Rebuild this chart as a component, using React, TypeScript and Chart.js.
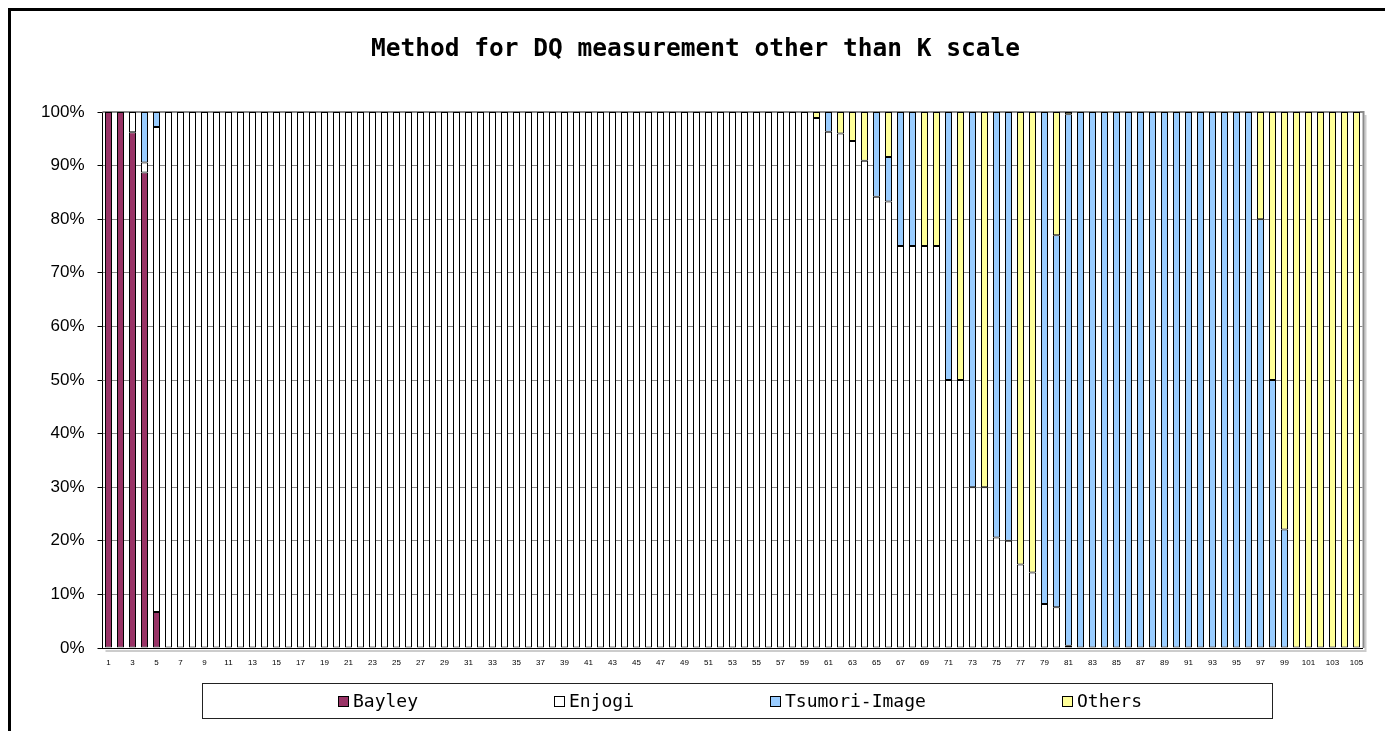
import React, { useEffect, useRef } from "react";
import { Chart, registerables } from "chart.js";

Chart.register(...registerables);

const TITLE = "Method for DQ measurement other than K scale";

const categories = [
  "1","2","3","4","5","6","7","8","9","10",
  "11","12","13","14","15","16","17","18","19","20",
  "21","22","23","24","25","26","27","28","29","30",
  "31","32","33","34","35","36","37","38","39","40",
  "41","42","43","44","45","46","47","48","49","50",
  "51","52","53","54","55","56","57","58","59","60",
  "61","62","63","64","65","66","67","68","69","70",
  "71","72","73","74","75","76","77","78","79","80",
  "81","82","83","84","85","86","87","88","89","90",
  "91","92","93","94","95","96","97","98","99","100",
  "101","102","103","104","105",
];

const seriesNames = ["Bayley", "Enjogi", "Tsumori-Image", "Others"];
const seriesColors = ["#993366", "#FFFFFF", "#99CCFF", "#FFFF99"];

const bayley = [
  100, 100, 96.2, 88.7, 6.7, 0, 0, 0, 0, 0,
  0, 0, 0, 0, 0, 0, 0, 0, 0, 0,
  0, 0, 0, 0, 0, 0, 0, 0, 0, 0,
  0, 0, 0, 0, 0, 0, 0, 0, 0, 0,
  0, 0, 0, 0, 0, 0, 0, 0, 0, 0,
  0, 0, 0, 0, 0, 0, 0, 0, 0, 0,
  0, 0, 0, 0, 0, 0, 0, 0, 0, 0,
  0, 0, 0, 0, 0, 0, 0, 0, 0, 0,
  0, 0, 0, 0, 0, 0, 0, 0, 0, 0,
  0, 0, 0, 0, 0, 0, 0, 0, 0, 0,
  0, 0, 0, 0, 0,
];

const enjogi = [
  0, 0, 3.8, 1.9, 90.5, 100, 100, 100, 100, 100,
  100, 100, 100, 100, 100, 100, 100, 100, 100, 100,
  100, 100, 100, 100, 100, 100, 100, 100, 100, 100,
  100, 100, 100, 100, 100, 100, 100, 100, 100, 100,
  100, 100, 100, 100, 100, 100, 100, 100, 100, 100,
  100, 100, 100, 100, 100, 100, 100, 100, 100, 98.9,
  96.3, 96.0, 94.6, 90.9, 84.2, 83.3, 75, 75, 75, 75,
  50, 50, 30, 30, 20.6, 20, 15.6, 14.1, 8.2, 7.6,
  0.4, 0, 0, 0, 0, 0, 0, 0, 0, 0,
  0, 0, 0, 0, 0, 0, 0, 0, 0, 0,
  0, 0, 0, 0, 0,
];

const tsumori = [
  0, 0, 0, 9.4, 2.8, 0, 0, 0, 0, 0,
  0, 0, 0, 0, 0, 0, 0, 0, 0, 0,
  0, 0, 0, 0, 0, 0, 0, 0, 0, 0,
  0, 0, 0, 0, 0, 0, 0, 0, 0, 0,
  0, 0, 0, 0, 0, 0, 0, 0, 0, 0,
  0, 0, 0, 0, 0, 0, 0, 0, 0, 0,
  3.7, 0, 0, 0, 15.8, 8.3, 25, 25, 0, 0,
  50, 0, 70, 0, 79.4, 80, 0, 0, 91.8, 69.4,
  99.2, 100, 100, 100, 100, 100, 100, 100, 100, 100,
  100, 100, 100, 100, 100, 100, 80, 50, 22.1, 0,
  0, 0, 0, 0, 0,
];

const others = [
  0, 0, 0, 0, 0, 0, 0, 0, 0, 0,
  0, 0, 0, 0, 0, 0, 0, 0, 0, 0,
  0, 0, 0, 0, 0, 0, 0, 0, 0, 0,
  0, 0, 0, 0, 0, 0, 0, 0, 0, 0,
  0, 0, 0, 0, 0, 0, 0, 0, 0, 0,
  0, 0, 0, 0, 0, 0, 0, 0, 0, 1.1,
  0, 4.0, 5.4, 9.1, 0, 8.4, 0, 0, 25, 25,
  0, 50, 0, 70, 0, 0, 84.4, 85.9, 0, 23.0,
  0.4, 0, 0, 0, 0, 0, 0, 0, 0, 0,
  0, 0, 0, 0, 0, 0, 20, 50, 77.9, 100,
  100, 100, 100, 100, 100,
];

const yTicks = [0, 10, 20, 30, 40, 50, 60, 70, 80, 90, 100];

const seriesValues = [bayley, enjogi, tsumori, others];

const MONO = "'DejaVu Sans Mono', monospace";
const SANS = "'Liberation Sans', Arial, sans-serif";

const plotFramePlugin = {
  id: "plotFrame",
  beforeDatasetsDraw(chart: any) {
    const { ctx, chartArea } = chart;
    const { left, top, right, bottom } = chartArea;
    ctx.save();
    ctx.strokeStyle = "#cccccc";
    ctx.lineWidth = 2;
    ctx.beginPath();
    ctx.moveTo(right + 3, top + 3);
    ctx.lineTo(right + 3, bottom + 3);
    ctx.lineTo(left + 3, bottom + 3);
    ctx.stroke();
    ctx.strokeStyle = "#8a8a8a";
    ctx.lineWidth = 2;
    ctx.beginPath();
    ctx.moveTo(left, top);
    ctx.lineTo(right + 1, top);
    ctx.lineTo(right + 1, bottom);
    ctx.stroke();
    ctx.restore();
  },
};

const boxLegendPlugin = {
  id: "boxLegend",
  afterDraw(chart: any) {
    const { ctx } = chart;
    const boxL = 202, boxT = 683, boxW = 1070, boxH = 35;
    ctx.save();
    ctx.strokeStyle = "#222";
    ctx.lineWidth = 1;
    ctx.strokeRect(boxL + 0.5, boxT + 0.5, boxW, boxH);
    ctx.font = `18px ${MONO}`;
    ctx.textBaseline = "middle";
    ctx.fillStyle = "#000";
    const marker = 11, gapIn = 4, gapOut = 136;
    const ds = chart.data.datasets;
    const widths = ds.map((d: any) => marker + gapIn + ctx.measureText(d.label).width);
    const total = widths.reduce((a: number, b: number) => a + b, 0) + gapOut * (ds.length - 1);
    let x = Math.round(740 - total / 2);
    const cy = 701.5;
    ds.forEach((d: any, i: number) => {
      const mx = Math.round(x);
      ctx.fillStyle = d.backgroundColor;
      ctx.fillRect(mx, Math.round(cy - marker / 2), marker, marker);
      ctx.strokeStyle = "#000";
      ctx.strokeRect(mx + 0.5, Math.round(cy - marker / 2) + 0.5, marker - 1, marker - 1);
      ctx.fillStyle = "#000";
      ctx.fillText(d.label, mx + marker + gapIn, cy + 1);
      x += widths[i] + gapOut;
    });
    ctx.restore();
  },
};

export default function App() {
  const canvasRef = useRef<HTMLCanvasElement | null>(null);

  useEffect(() => {
    if (!canvasRef.current) return;
    Chart.defaults.color = "#000";
    const chart = new Chart(canvasRef.current, {
      type: "bar",
      data: {
        labels: categories,
        datasets: seriesNames.map((name, i) => ({
          label: name,
          data: seriesValues[i].map((v) => (v === 0 ? null : v)),
          backgroundColor: seriesColors[i],
          borderColor: "#000",
          borderWidth: 1,
          borderSkipped: false,
          inflateAmount: 0,
          barPercentage: 7 / 12,
          categoryPercentage: 1,
        })),
      },
      options: {
        responsive: false,
        animation: false,
        devicePixelRatio: 1,
        layout: { padding: { left: 28.5, right: 22.5, top: 0, bottom: 58 } },
        plugins: {
          legend: { display: false },
          tooltip: { enabled: false },
          title: {
            display: true,
            text: TITLE,
            color: "#000",
            font: { family: MONO, size: 24.5, weight: "bold" },
            padding: { top: 35, bottom: 47.6 },
          },
        },
        scales: {
          x: {
            stacked: true,
            grid: { display: false, drawTicks: false },
            border: { display: true, color: "#000", width: 1 },
            ticks: {
              autoSkip: false,
              maxRotation: 0,
              minRotation: 0,
              padding: 10,
              font: { family: SANS, size: 8 },
              color: "#000",
              callback: (_v: any, idx: number) => (idx % 2 === 0 ? categories[idx] : ""),
            },
            afterFit: (scale: any) => {
              scale.height = 25;
            },
          },
          y: {
            stacked: true,
            min: 0,
            max: 100,
            afterBuildTicks: (scale: any) => {
              scale.ticks = yTicks.map((v) => ({ value: v }));
            },
            grid: {
              color: "#8a8a8a",
              lineWidth: 1,
              tickLength: 5,
              tickColor: "#000",
            },
            border: { display: true, color: "#000", width: 1 },
            ticks: {
              padding: 13,
              font: { family: SANS, size: 17 },
              color: "#000",
              callback: (v: any) => `${v}%`,
            },
            afterFit: (scale: any) => {
              scale.width = 74;
            },
          },
        },
      },
      plugins: [plotFramePlugin, boxLegendPlugin],
    });
    return () => chart.destroy();
  }, []);

  return (
    <div>
      <div
        style={{
          position: "fixed",
          left: 8,
          top: 8,
          width: 1500,
          height: 800,
          border: "3px solid #000",
          boxSizing: "border-box",
          background: "#fff",
        }}
      />
      <canvas
        ref={canvasRef}
        width={1385}
        height={731}
        style={{ position: "fixed", left: 0, top: 0, width: 1385, height: 731, zIndex: 1 }}
      />
    </div>
  );
}
